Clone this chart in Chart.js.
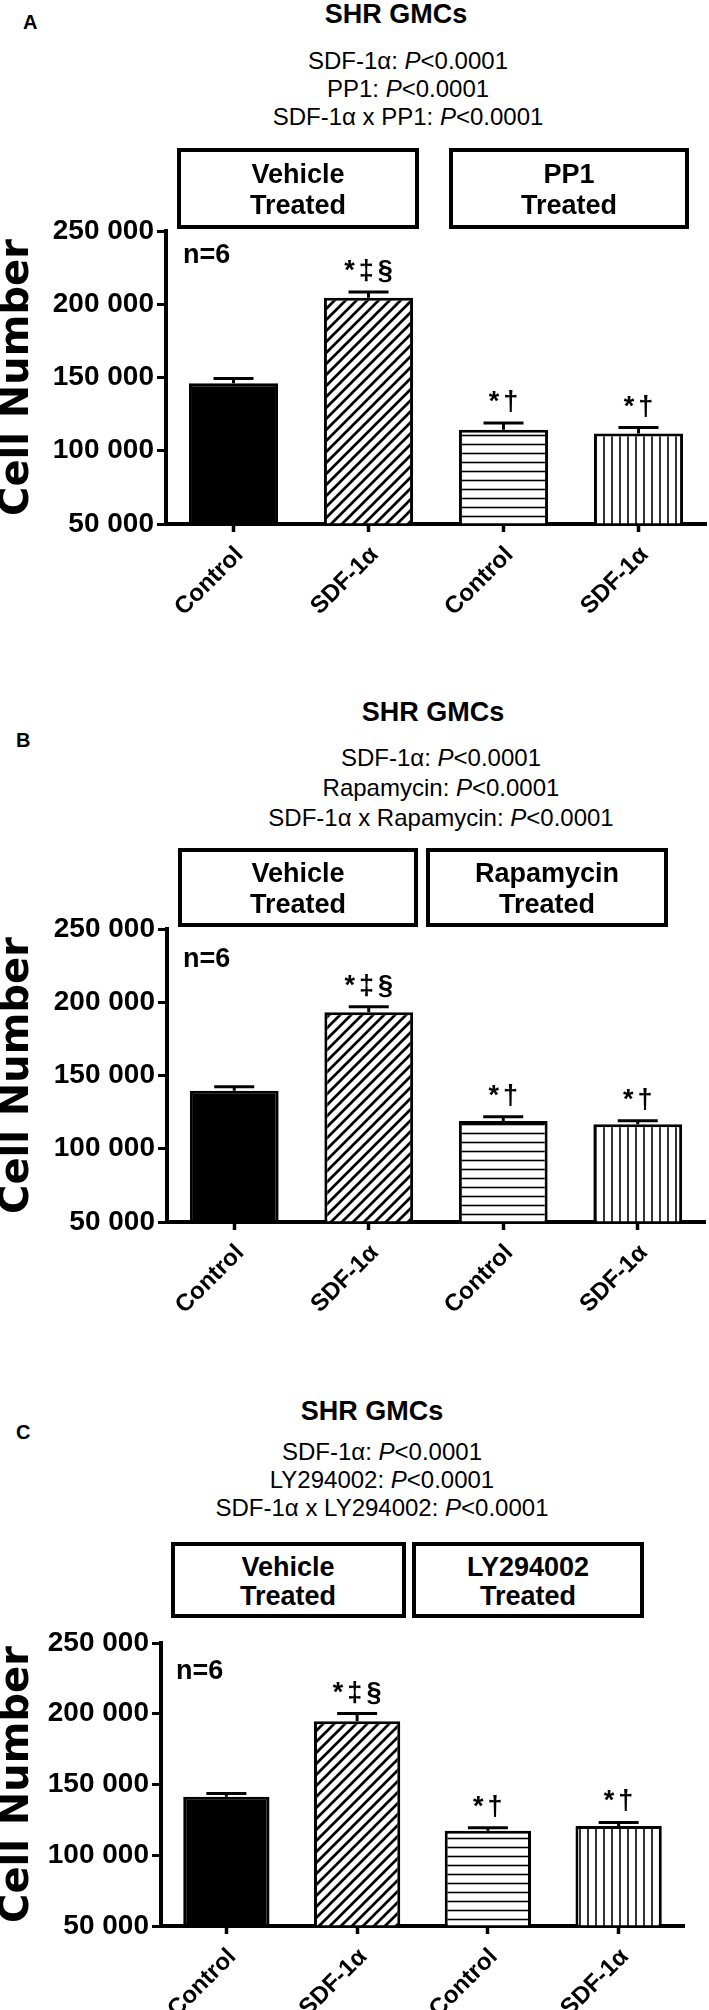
<!DOCTYPE html>
<html><head><meta charset="utf-8">
<script src="https://cdn.jsdelivr.net/npm/chart.js@4.4.1/dist/chart.umd.min.js"></script>
<style>
html,body{margin:0;padding:0;background:#fff}
body{position:relative;width:709px;height:2010px;overflow:hidden;font-family:"Liberation Sans",Arial,sans-serif;color:#000}
.t{position:absolute;white-space:nowrap;line-height:1;transform:translateX(-50%)}
.l{position:absolute;white-space:nowrap;line-height:1;font-weight:bold}
.h{font-weight:bold;font-size:27px}
.p{font-size:24px}
.bx{font-weight:bold;font-size:27px}
.box{position:absolute;border:4px solid #000;box-sizing:border-box}
canvas{position:absolute;left:0}
</style></head><body>

<canvas id="cA"></canvas>
<canvas id="cB"></canvas>
<canvas id="cC"></canvas>

<!-- Panel A header -->
<div class="l" style="left:23px;top:12px;font-size:20px">A</div>
<div class="t h" style="left:396px;top:1px">SHR GMCs</div>
<div class="t p" style="left:408px;top:49px">SDF-1α: <i>P</i>&lt;0.0001</div>
<div class="t p" style="left:408px;top:77px">PP1: <i>P</i>&lt;0.0001</div>
<div class="t p" style="left:408px;top:105px">SDF-1α x PP1: <i>P</i>&lt;0.0001</div>
<div class="box" style="left:177px;top:148px;width:242px;height:81px"></div>
<div class="box" style="left:449px;top:148px;width:240px;height:81px"></div>
<div class="t bx" style="left:298px;top:161px">Vehicle</div>
<div class="t bx" style="left:298px;top:192px">Treated</div>
<div class="t bx" style="left:569px;top:161px">PP1</div>
<div class="t bx" style="left:569px;top:192px">Treated</div>

<!-- Panel B header -->
<div class="l" style="left:16px;top:730px;font-size:20px">B</div>
<div class="t h" style="left:433px;top:699px">SHR GMCs</div>
<div class="t p" style="left:441px;top:746px">SDF-1α: <i>P</i>&lt;0.0001</div>
<div class="t p" style="left:441px;top:776px">Rapamycin: <i>P</i>&lt;0.0001</div>
<div class="t p" style="left:441px;top:806px">SDF-1α x Rapamycin: <i>P</i>&lt;0.0001</div>
<div class="box" style="left:178px;top:848px;width:240px;height:79px"></div>
<div class="box" style="left:426px;top:848px;width:242px;height:79px"></div>
<div class="t bx" style="left:298px;top:860px">Vehicle</div>
<div class="t bx" style="left:298px;top:891px">Treated</div>
<div class="t bx" style="left:547px;top:860px">Rapamycin</div>
<div class="t bx" style="left:547px;top:891px">Treated</div>

<!-- Panel C header -->
<div class="l" style="left:16px;top:1422px;font-size:20px">C</div>
<div class="t h" style="left:372px;top:1398px">SHR GMCs</div>
<div class="t p" style="left:382px;top:1440px">SDF-1α: <i>P</i>&lt;0.0001</div>
<div class="t p" style="left:382px;top:1468px">LY294002: <i>P</i>&lt;0.0001</div>
<div class="t p" style="left:382px;top:1496px">SDF-1α x LY294002: <i>P</i>&lt;0.0001</div>
<div class="box" style="left:171px;top:1542px;width:235px;height:76px"></div>
<div class="box" style="left:412px;top:1542px;width:232px;height:76px"></div>
<div class="t bx" style="left:288px;top:1554px">Vehicle</div>
<div class="t bx" style="left:288px;top:1583px">Treated</div>
<div class="t bx" style="left:528px;top:1554px">LY294002</div>
<div class="t bx" style="left:528px;top:1583px">Treated</div>

<script>
// ---------- data ----------
const categories = ['Control', 'SDF-1α', 'Control', 'SDF-1α'];
const yTickValues = [50000, 100000, 150000, 200000, 250000];
const yTickLabels = ['50 000', '100 000', '150 000', '200 000', '250 000'];
const yAxisTitle = 'Cell Number';
const sampleSize = 'n=6';
const significance = ['', '*‡§', '*†', '*†'];

const meansA = [146000, 204500, 114300, 111800];
const semA   = [3400, 3900, 4600, 4000];
const meansB = [139600, 193200, 118900, 116800];
const semB   = [2700, 3800, 2900, 2300];
const meansC = [141300, 194700, 117300, 120600];
const semC   = [2400, 5400, 2100, 2600];

// ---------- patterns ----------
function makePattern(kind) {
  const c = document.createElement('canvas');
  const s = kind === 'diag' ? 11 : (kind === 'vert' ? 8 : 9);
  c.width = s; c.height = s;
  const g = c.getContext('2d');
  g.fillStyle = '#fff'; g.fillRect(0, 0, s, s);
  g.strokeStyle = '#000';
  g.beginPath();
  if (kind === 'diag') {
    g.lineWidth = 2.7;
    g.moveTo(-1, 1); g.lineTo(1, -1);
    g.moveTo(-1, s + 1); g.lineTo(s + 1, -1);
    g.moveTo(s - 1, s + 1); g.lineTo(s + 1, s - 1);
  } else if (kind === 'vert') {
    g.lineWidth = 1.6;
    g.moveTo(s / 2, 0); g.lineTo(s / 2, s);
  } else {
    g.lineWidth = 1.6;
    g.moveTo(0, s / 2); g.lineTo(s, s / 2);
  }
  g.stroke();
  return g.createPattern(c, 'repeat');
}

const overlayPlugin = {
  id: 'overlay',
  afterDatasetsDraw(chart) {
    const o = chart.options.plugins.overlay;
    const {ctx, chartArea} = chart;
    const ys = chart.scales.y;
    const ds = chart.data.datasets[0];
    const meta = chart.getDatasetMeta(0);
    ctx.save();
    ctx.strokeStyle = '#000';
    ctx.fillStyle = '#000';
    ctx.lineWidth = 3;
    meta.data.forEach((bar, i) => {
      const yCap = ys.getPixelForValue(ds.data[i] + o.sem[i]);
      ctx.beginPath();
      ctx.moveTo(bar.x, bar.y); ctx.lineTo(bar.x, yCap);
      ctx.moveTo(bar.x - 20, yCap); ctx.lineTo(bar.x + 20, yCap);
      ctx.stroke();
      const s = o.marks[i];
      if (s) {
        ctx.font = 'bold 27px "Liberation Sans", Arial, sans-serif';
        ctx.textAlign = 'center';
        ctx.textBaseline = 'alphabetic';
        try { ctx.letterSpacing = '4px'; } catch (e) {}
        ctx.fillText(s, bar.x + 2, yCap - 13);
        try { ctx.letterSpacing = '0px'; } catch (e) {}
      }
    });
    ctx.font = 'bold 27px "Liberation Sans", Arial, sans-serif';
    ctx.textAlign = 'left';
    ctx.textBaseline = 'alphabetic';
    ctx.fillText(sampleSize, chartArea.left + o.nDx, chartArea.top + o.nDy);
    ctx.restore();
  }
};

function makeChart(id, means, sems, cfg) {
  const padTop = 25, xH = 110;
  const canvas = document.getElementById(id);
  const H = (cfg.bottom - cfg.top) + padTop + xH;
  canvas.width = 709; canvas.height = H;
  canvas.style.width = '709px'; canvas.style.height = H + 'px';
  canvas.style.top = (cfg.top - padTop) + 'px';
  const tickFont = {family: '"Liberation Sans", Arial, sans-serif', weight: 'bold', size: 28};
  return new Chart(canvas.getContext('2d'), {
    type: 'bar',
    data: {
      labels: categories,
      datasets: [{
        data: means,
        base: 50000,
        backgroundColor: ['#000', makePattern('diag'), makePattern('horiz'), makePattern('vert')],
        borderColor: '#000',
        borderWidth: 3,
        barPercentage: 0.66,
        categoryPercentage: 1
      }]
    },
    options: {
      responsive: false,
      animation: false,
      events: [],
      layout: {padding: {top: padTop, left: 0, right: 709 - cfg.right, bottom: 0}},
      plugins: {
        legend: {display: false},
        tooltip: {enabled: false},
        overlay: {sem: sems, marks: significance, nDx: cfg.nDx, nDy: cfg.nDy}
      },
      scales: {
        x: {
          type: 'category',
          offset: true,
          z: 1,
          border: {display: true, color: '#000', width: 4},
          grid: {display: true, drawOnChartArea: false, drawTicks: true, offset: false,
                 tickLength: 8, tickWidth: 3.5, tickColor: '#000', color: '#000'},
          ticks: {color: '#000', autoSkip: false, minRotation: 45, maxRotation: 45,
                  padding: 9, labelOffset: 6,
                  font: {family: '"Liberation Sans", Arial, sans-serif', weight: 'bold', size: 24}},
          afterFit: s => { s.height = xH; }
        },
        y: {
          min: 50000, max: 250000,
          z: 1,
          border: {display: true, color: '#000', width: 4},
          grid: {display: true, drawOnChartArea: false, drawTicks: true,
                 tickLength: 9, tickWidth: 3, tickColor: '#000', color: '#000'},
          afterBuildTicks: s => { s.ticks = yTickValues.map(v => ({value: v})); },
          ticks: {color: '#000', padding: 3, font: tickFont,
                  callback: v => yTickLabels[yTickValues.indexOf(v)]},
          title: {display: true, text: yAxisTitle, color: '#000', padding: 0,
                  font: {family: '"DejaVu Sans", sans-serif', weight: 'bold', size: 40, lineHeight: 0.875}},
          afterFit: s => { s.width = cfg.left; }
        }
      }
    },
    plugins: [overlayPlugin]
  });
}

makeChart('cA', meansA, semA, {top: 231, bottom: 524, left: 166, right: 706, nDx: 17, nDy: 32});
makeChart('cB', meansB, semB, {top: 929, bottom: 1222, left: 167, right: 705, nDx: 16, nDy: 38});
makeChart('cC', meansC, semC, {top: 1643, bottom: 1926, left: 161, right: 684, nDx: 15, nDy: 36});
</script>
</body></html>
